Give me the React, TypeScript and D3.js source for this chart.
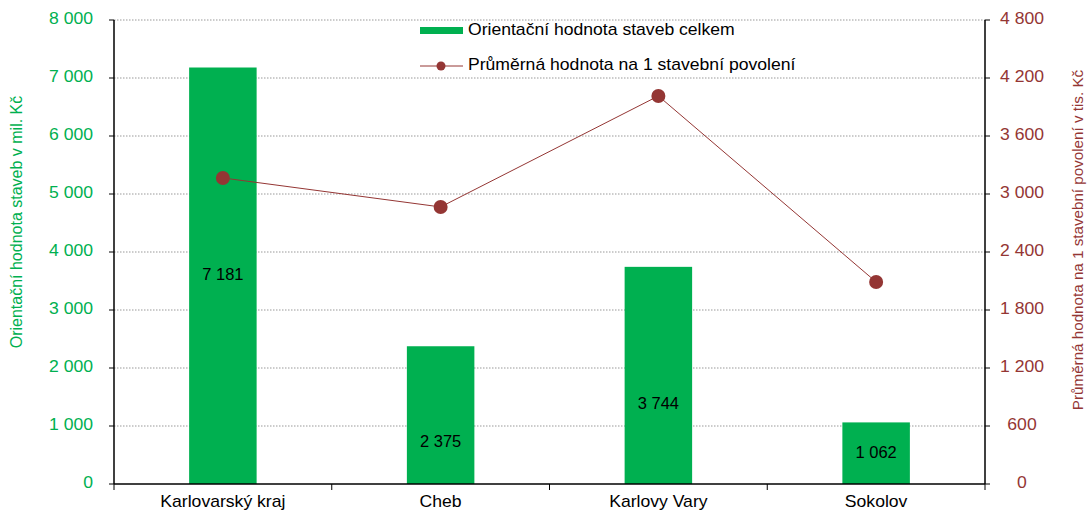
import React from "react";
import * as d3 from "d3";

const categories = ["Karlovarský kraj", "Cheb", "Karlovy Vary", "Sokolov"];
const totalValues = [7181, 2375, 3744, 1062];
const averageValues = [3166, 2866, 4014, 2090];
const valueLabels = ["7 181", "2 375", "3 744", "1 062"];
const labelAnchors = [3590, 710, 1360, 520];
const leftTicks = [0, 1000, 2000, 3000, 4000, 5000, 6000, 7000, 8000];
const rightTicks = [0, 600, 1200, 1800, 2400, 3000, 3600, 4200, 4800];

const W = 1087;
const H = 512;
const M = { left: 114, right: 102, top: 20, bottom: 28 };
const GREEN = "#00B050";
const BROWN = "#943634";
const FONT = "'Liberation Sans', Arial, sans-serif";

const fmt = (v: number) => d3.format(",")(v).replace(/,/g, " ");

type TProps = {
  x: number;
  y: number;
  anchor?: "start" | "middle" | "end";
  size?: number;
  sx?: number;
  fill?: string;
  children: React.ReactNode;
};

function T({ x, y, anchor = "start", size = 16, sx = 1.1, fill = "#000", children }: TProps) {
  return (
    <text
      transform={`translate(${x},${y}) scale(${sx},1)`}
      textAnchor={anchor}
      dominantBaseline="middle"
      fontSize={size}
      fill={fill}
    >
      {children}
    </text>
  );
}

export default function App() {
  const x0 = M.left;
  const x1 = W - M.right;
  const y0 = H - M.bottom;
  const y1 = M.top;
  const x = d3.scaleBand<string>().domain(categories).range([x0, x1]);
  const yL = d3.scaleLinear().domain([0, 8000]).range([y0, y1]);
  const yR = d3.scaleLinear().domain([0, 4800]).range([y0, y1]);
  const barW = x.bandwidth() * 0.31;
  const cx = (c: string) => (x(c) as number) + x.bandwidth() / 2;
  const line = d3
    .line<number>()
    .x((_, i) => cx(categories[i]))
    .y((d) => yR(d));

  return (
    <svg
      width={W}
      height={H}
      style={{ position: "absolute", left: 0, top: 0, fontFamily: FONT }}
    >
      <rect width={W} height={H} fill="#fff" />
      {leftTicks.slice(1).map((t) => (
        <line
          key={t}
          x1={x0}
          x2={x1}
          y1={yL(t)}
          y2={yL(t)}
          stroke="#999"
          strokeWidth={1}
          strokeDasharray="1.5 1.5"
        />
      ))}
      {categories.map((c, i) => (
        <rect
          key={c}
          x={cx(c) - barW / 2}
          y={yL(totalValues[i])}
          width={barW}
          height={y0 - yL(totalValues[i])}
          fill={GREEN}
        />
      ))}
      {categories.map((c, i) => (
        <T key={c} x={cx(c)} y={yL(labelAnchors[i])} anchor="middle" size={16.5} sx={1}>
          {valueLabels[i]}
        </T>
      ))}
      <path d={line(averageValues) || ""} fill="none" stroke={BROWN} strokeWidth={1} />
      {averageValues.map((v, i) => (
        <circle key={i} cx={cx(categories[i])} cy={yR(v)} r={7} fill={BROWN} />
      ))}
      {/* axes */}
      <line x1={x0} x2={x0} y1={y1} y2={y0} stroke="#000" strokeWidth={1.5} />
      <line x1={x1} x2={x1} y1={y1} y2={y0} stroke="#000" strokeWidth={1.5} />
      <line x1={x0} x2={x1} y1={y0} y2={y0} stroke="#000" strokeWidth={1.5} />
      {leftTicks.map((t) => (
        <g key={t}>
          <line x1={x0 - 5} x2={x0} y1={yL(t)} y2={yL(t)} stroke="#000" />
          <T x={x0 - 21} y={yL(t)} anchor="end" fill={GREEN}>
            {fmt(t)}
          </T>
        </g>
      ))}
      {rightTicks.map((t) => (
        <g key={t}>
          <line x1={x1} x2={x1 + 5} y1={yR(t)} y2={yR(t)} stroke="#000" />
          <T x={x1 + 37} y={yR(t)} anchor="middle" fill={BROWN}>
            {fmt(t)}
          </T>
        </g>
      ))}
      {[...categories.map((c) => x(c) as number), x1].map((px, i) => (
        <line key={i} x1={px} x2={px} y1={y0} y2={y0 + 6} stroke="#000" />
      ))}
      {categories.map((c) => (
        <T key={c} x={cx(c)} y={y0 + 19} anchor="middle">
          {c}
        </T>
      ))}
      <text
        transform={`translate(18,222) rotate(-90)`}
        textAnchor="middle"
        dominantBaseline="middle"
        fontSize={16}
        fill={GREEN}
      >
        Orientační hodnota staveb v mil. Kč
      </text>
      <text
        transform={`translate(1079,240) rotate(-90)`}
        textAnchor="middle"
        dominantBaseline="middle"
        fontSize={15.2}
        fill={BROWN}
      >
        Průměrná hodnota na 1 stavební povolení v tis. Kč
      </text>
      {/* legend */}
      <rect x={420} y={27} width={43} height={7} fill={GREEN} />
      <T x={468} y={31}>Orientační hodnota staveb celkem</T>
      <line x1={420} x2={463} y1={66} y2={66} stroke={BROWN} strokeWidth={1} />
      <circle cx={441} cy={66} r={4.5} fill={BROWN} />
      <T x={468} y={66}>Průměrná hodnota na 1 stavební povolení</T>
    </svg>
  );
}
